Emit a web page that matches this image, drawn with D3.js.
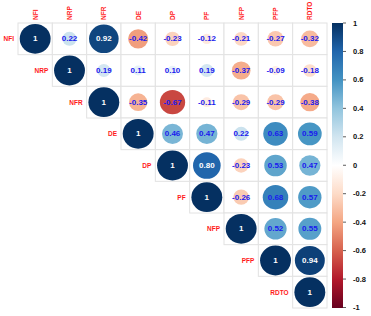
<!DOCTYPE html>
<html>
<head>
<meta charset="utf-8">
<script src="https://cdn.jsdelivr.net/npm/d3@7"></script>
<style>
  body { margin: 0; background: #fff; }
  text { font-family: "Liberation Sans", Arial, sans-serif; font-weight: bold; }
</style>
</head>
<body>
<svg id="chart" width="371" height="316"></svg>
<script>
// variables, in plot order
const vars = ['NFI', 'NRP', 'NFR', 'DE', 'DP', 'PF', 'NFP', 'PFP', 'RDTO'];

// upper triangle, one row per variable (starting at the diagonal)
const rowNFI  = [1, 0.22, 0.92, -0.42, -0.23, -0.12, -0.21, -0.27, -0.32];
const rowNRP  = [1, 0.19, 0.11, 0.10, 0.19, -0.37, -0.09, -0.18];
const rowNFR  = [1, -0.35, -0.67, -0.11, -0.29, -0.29, -0.38];
const rowDE   = [1, 0.46, 0.47, 0.22, 0.63, 0.59];
const rowDP   = [1, 0.80, -0.23, 0.53, 0.47];
const rowPF   = [1, -0.26, 0.68, 0.57];
const rowNFP  = [1, 0.52, 0.55];
const rowPFP  = [1, 0.94];
const rowRDTO = [1];

const legendTicks = [1, 0.8, 0.6, 0.4, 0.2, 0, -0.2, -0.4, -0.6, -0.8, -1];

// RdBu palette like corrplot
const palette = ['#67001F', '#B2182B', '#D6604D', '#F4A582', '#FDDBC7', '#FFFFFF',
                 '#D1E5F0', '#92C5DE', '#4393C3', '#2166AC', '#053061'];

const rows = [rowNFI, rowNRP, rowNFR, rowDE, rowDP, rowPF, rowNFP, rowPFP, rowRDTO];
const cells = [];
rows.forEach((r, i) => {
  r.forEach((v, k) => {
    cells.push({ row: vars[i], col: vars[i + k], value: v });
  });
});

const svg = d3.select('#chart');

const x = d3.scaleBand().domain(vars).range([18, 327]);
const y = d3.scaleBand().domain(vars).range([23, 308]);

const color = d3.scaleLinear()
  .domain(d3.range(palette.length).map(i => -1 + i * 2 / (palette.length - 1)))
  .range(palette);

const fmt = v => v === 1 ? '1' : v.toFixed(2);

// grid cells
svg.append('g').selectAll('rect')
  .data(cells).enter().append('rect')
  .attr('x', d => x(d.col))
  .attr('y', d => y(d.row))
  .attr('width', x.bandwidth())
  .attr('height', y.bandwidth())
  .attr('fill', 'white')
  .attr('stroke', '#e2e2e2')
  .attr('stroke-width', 1);

// circles, area proportional to |r|
svg.append('g').selectAll('ellipse')
  .data(cells).enter().append('ellipse')
  .attr('cx', d => x(d.col) + x.bandwidth() / 2)
  .attr('cy', d => y(d.row) + y.bandwidth() / 2)
  .attr('rx', d => Math.sqrt(Math.abs(d.value)) * x.bandwidth() * 0.45)
  .attr('ry', d => Math.sqrt(Math.abs(d.value)) * y.bandwidth() * 0.47)
  .attr('fill', d => color(d.value));

// coefficients
svg.append('g').selectAll('text')
  .data(cells).enter().append('text')
  .attr('x', d => x(d.col) + x.bandwidth() / 2)
  .attr('y', d => y(d.row) + y.bandwidth() / 2)
  .attr('text-anchor', 'middle')
  .attr('dominant-baseline', 'central')
  .attr('font-size', '8px')
  .attr('fill', d => Math.abs(d.value) >= 0.75 ? 'white' : '#1a1aee')
  .text(d => fmt(d.value));

// row labels, left of the diagonal
svg.append('g').selectAll('text')
  .data(vars).enter().append('text')
  .attr('x', d => x(d) - 4)
  .attr('y', d => y(d) + y.bandwidth() / 2)
  .attr('text-anchor', 'end')
  .attr('dominant-baseline', 'central')
  .attr('font-size', '6.5px')
  .attr('fill', '#ff1a1a')
  .text(d => d);

// column labels, rotated
svg.append('g').selectAll('text')
  .data(vars).enter().append('text')
  .attr('transform', d => `translate(${x(d) + x.bandwidth() / 2}, 20) rotate(-90)`)
  .attr('dominant-baseline', 'central')
  .attr('font-size', '6.5px')
  .attr('fill', '#ff1a1a')
  .text(d => d);

// colour legend
const defs = svg.append('defs');
const grad = defs.append('linearGradient')
  .attr('id', 'cbar').attr('x1', 0).attr('x2', 0).attr('y1', 1).attr('y2', 0);
palette.forEach((c, i) => {
  grad.append('stop').attr('offset', i / (palette.length - 1)).attr('stop-color', c);
});

const ly = d3.scaleLinear().domain([-1, 1]).range([307.5, 23]);

svg.append('rect')
  .attr('x', 332).attr('y', 23)
  .attr('width', 11).attr('height', 285)
  .attr('fill', 'url(#cbar)');

const leg = svg.append('g');
leg.selectAll('line')
  .data(legendTicks).enter().append('line')
  .attr('x1', 343).attr('x2', 346)
  .attr('y1', d => ly(d)).attr('y2', d => ly(d))
  .attr('stroke', '#333').attr('stroke-width', 0.8);

leg.selectAll('text')
  .data(legendTicks).enter().append('text')
  .attr('x', 353)
  .attr('y', d => ly(d))
  .attr('dominant-baseline', 'central')
  .attr('font-size', '7.5px')
  .attr('fill', '#111')
  .text(d => d3.format('')(d).replace('−', '-'));
</script>
</body>
</html>
